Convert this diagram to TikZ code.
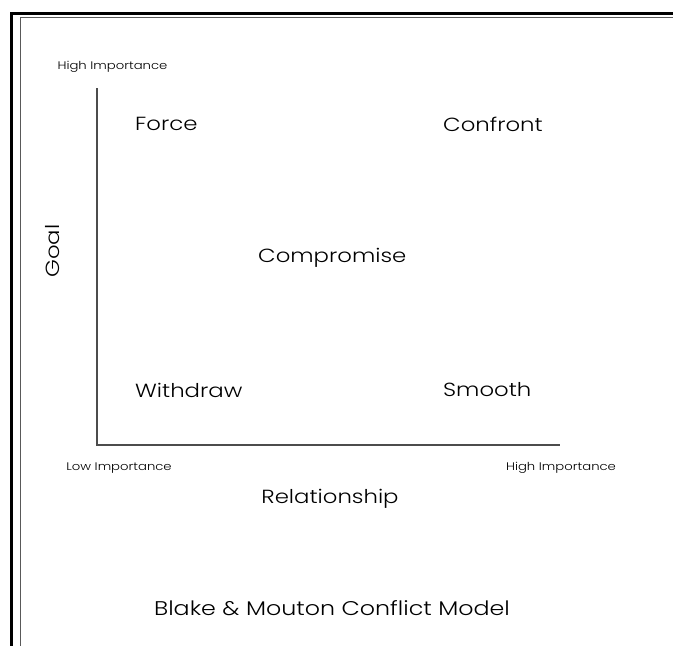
\documentclass[tikz,border=0pt]{standalone}
\usepackage{fontspec}
\setmainfont{Poppins}[UprightFont=* Light,FakeStretch=1.2]
\begin{document}
\begin{tikzpicture}[x=1pt,y=-1pt,
  frameouter/.style={line width=3pt,black},
  frameinner/.style={line width=1pt,black!65},
  axisline/.style={line width=1.2pt,black!70},
  small/.style={font=\fontsize{11}{13}\selectfont,inner sep=0pt},
  big/.style={font=\fontsize{19}{22}\selectfont,inner sep=0pt},
  title/.style={font=\fontsize{19.8}{23}\selectfont,inner sep=0pt}]
\useasboundingbox (0,0) rectangle (673,646);
% page frame
\draw[frameouter] (11,646) -- (11,13) -- (673,13);
\draw[frameinner] (20,646) -- (20,17) -- (673,17);
% axes
\coordinate (top) at (97,88);
\coordinate (origin) at (97,445);
\coordinate (right) at (560,445);
\draw[axisline] (top) -- (origin) -- (right);
% axis labels
\node[small] (hiy) at (112.5,67) {High Importance};
\node[small] (lox) at (119,468) {Low Importance};
\node[small] (hix) at (561,468) {High Importance};
\node[big] (goal) at (53,251) [rotate=90] {Goal};
\node[big] (rel) at (330,499) {Relationship};
% quadrant styles
\node[big,anchor=west] (force) at (135,124) {Force};
\node[big,anchor=west] (confront) at (443,124) {Confront};
\node[big,anchor=west] (compromise) at (258,258) {Compromise};
\node[big,anchor=west] (withdraw) at (135,390) {Withdraw};
\node[big,anchor=west] (smooth) at (443,390) {Smooth};
% title
\node[title] (ttl) at (332,608) {Blake \& Mouton Conflict Model};
\end{tikzpicture}
\end{document}
